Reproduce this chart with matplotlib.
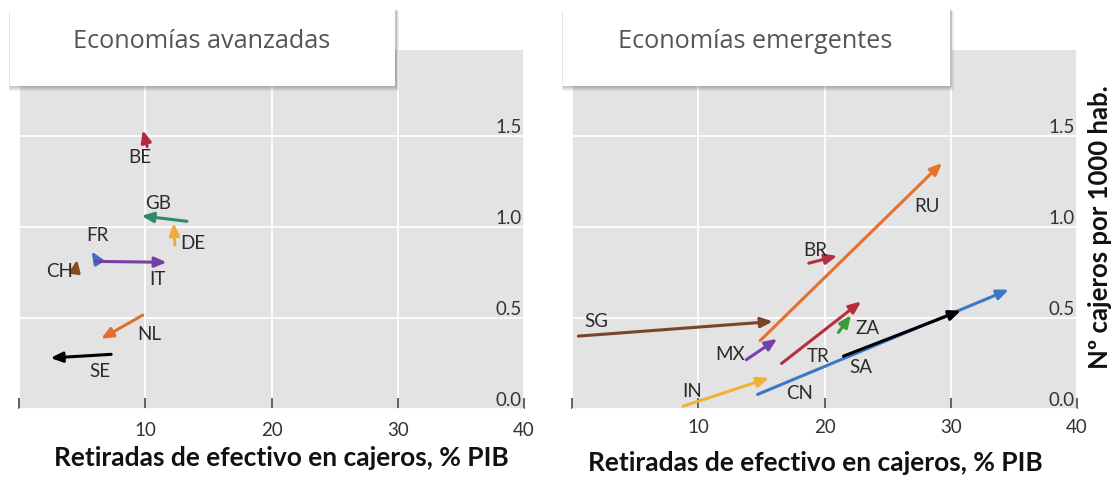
import matplotlib
matplotlib.use("Agg")
import matplotlib.pyplot as plt
import matplotlib.transforms as mtransforms
from matplotlib.patches import Rectangle

# ---------------- data ----------------
panel_titles = ["Economías avanzadas", "Economías emergentes"]
x_label = "Retiradas de efectivo en cajeros, % PIB"
y_label = "Nº cajeros por 1000 hab."
x_ticks = [0, 10, 20, 30, 40]
x_tick_labels = ["", "10", "20", "30", "40"]
y_ticks = [0.0, 0.5, 1.0, 1.5]
y_tick_labels = ["0.0", "0.5", "1.0", "1.5"]

# advanced economies: arrow start (x0,y0) -> end (x1,y1)
adv_codes = ["BE", "GB", "DE", "FR", "IT", "CH", "NL", "SE"]
adv_x0 = [10.15, 13.3, 12.35, 6.2, 6.0, 4.5, 9.8, 7.3]
adv_y0 = [1.44, 1.03, 0.90, 0.815, 0.81, 0.775, 0.515, 0.30]
adv_x1 = [9.8, 9.7, 12.25, 5.75, 11.7, 4.6, 6.5, 2.5]
adv_y1 = [1.53, 1.06, 1.02, 0.865, 0.805, 0.82, 0.385, 0.28]
adv_colors = ["#B52A3A", "#2F8A68", "#F2A93B", "#3D6FC2", "#7540A5",
              "#8B4A1E", "#E46D2C", "#000000"]
adv_lab_x = [9.6, 11.0, 13.8, 6.2, 11.0, 3.2, 10.3, 6.4]
adv_lab_y = [1.38, 1.13, 0.91, 0.95, 0.71, 0.755, 0.41, 0.205]

# emerging economies
emg_codes = ["CN", "SG", "RU", "BR", "MX", "TR", "ZA", "SA", "IN"]
emg_x0 = [14.7, 0.5, 14.9, 18.75, 13.8, 16.6, 21.1, 21.5, 8.8]
emg_y0 = [0.08, 0.40, 0.375, 0.80, 0.27, 0.25, 0.42, 0.29, 0.015]
emg_x1 = [34.6, 15.9, 29.3, 21.0, 16.25, 22.9, 22.1, 30.8, 15.6]
emg_y1 = [0.655, 0.48, 1.35, 0.84, 0.385, 0.59, 0.515, 0.54, 0.17]
emg_colors = ["#3B78C8", "#7A4527", "#E8702A", "#B3303E", "#7540A8",
              "#B82E3C", "#3C9A3C", "#000000", "#F2B134"]
emg_lab_x = [18.0, 1.9, 28.1, 19.3, 12.5, 19.5, 23.4, 22.9, 9.5]
emg_lab_y = [0.086, 0.48, 1.11, 0.87, 0.30, 0.29, 0.44, 0.225, 0.095]

# ---------------- figure ----------------
W, H = 1111, 479
fig = plt.figure(figsize=(W / 100, H / 100), dpi=100)
fig.patch.set_facecolor("white")

def px_axes(x0, x1, ytop, ybot):
    return [x0 / W, 1 - ybot / H, (x1 - x0) / W, (ybot - ytop) / H]

ax_l = fig.add_axes(px_axes(19, 524, 50, 409))
ax_r = fig.add_axes(px_axes(572, 1077, 50, 409))

TICK_FONT = "Lato"
for ax, pad in ((ax_l, 9.5), (ax_r, 7)):
    ax.set_facecolor("#E3E3E3")
    ax.set_xlim(0, 40)
    ax.set_ylim(0, 1.97)
    for s in ax.spines.values():
        s.set_visible(False)
    ax.set_xticks(x_ticks)
    ax.set_xticklabels(x_tick_labels, fontfamily=TICK_FONT, fontsize=13.5,
                       color="#333333")
    ax.tick_params(axis="x", direction="in", length=8, width=1.3,
                   color="#555555", pad=pad)
    ax.set_yticks(y_ticks)
    ax.set_yticklabels([])
    ax.tick_params(axis="y", length=0)
    ax.grid(True, color="white", lw=1.3)
    ax.set_axisbelow(True)
    trans = mtransforms.blended_transform_factory(ax.transAxes, ax.transData)
    for v, t in zip(y_ticks, y_tick_labels):
        ax.annotate(t, xy=(0.995, v), xycoords=trans, xytext=(0, 2),
                    textcoords="offset points", ha="right", va="baseline",
                    fontfamily=TICK_FONT, fontsize=13.5, color="#333333")

def draw_arrows(ax, codes, x0, y0, x1, y1, cols, lx, ly):
    for c, a, b, cc, d, col, tx, ty in zip(codes, x0, y0, x1, y1, cols, lx, ly):
        ax.annotate("", xy=(cc, d), xytext=(a, b),
                    arrowprops=dict(arrowstyle="-|>,head_length=0.7,head_width=0.3",
                                    lw=2.2, color=col, mutation_scale=10,
                                    shrinkA=0, shrinkB=0))
        ax.text(tx, ty, c, ha="center", va="center", fontfamily="Lato",
                fontsize=13.5, color="#2b2b2b")

draw_arrows(ax_l, adv_codes, adv_x0, adv_y0, adv_x1, adv_y1, adv_colors,
            adv_lab_x, adv_lab_y)
# CN is first in the list so the black SA arrow is drawn over it
draw_arrows(ax_r, emg_codes, emg_x0, emg_y0, emg_x1, emg_y1, emg_colors,
            emg_lab_x, emg_lab_y)

# axis labels
for ax, lx, ly in ((ax_l, 0.519, -0.136), (ax_r, 0.481, -0.150)):
    ax.set_xlabel(x_label, fontfamily="Lato", fontweight="bold", fontsize=19,
                  color="#111111")
    ax.xaxis.set_label_coords(lx, ly)
    ax.xaxis.label.set_va("center")

ax_r.set_ylabel(y_label, fontfamily="Lato", fontweight="bold", fontsize=18.5,
                color="#111111", rotation=90)
ax_r.yaxis.set_label_position("right")
ax_r.yaxis.set_label_coords(1.0455, 0.507)
ax_r.yaxis.label.set_va("center")
ax_r.yaxis.label.set_ha("center")

# title boxes with soft shadow
boxes = [(10, 395, 9, 86, 202), (563, 950, 9, 86, 755)]
for (bx0, bx1, by0, by1, tcx), title in zip(boxes, panel_titles):
    for k in range(5, 0, -1):
        sh = Rectangle(((bx0 + 1 - k * 0.4) / W, 1 - (by1 + k) / H),
                       (bx1 - bx0 + k * 0.9) / W, (by1 - by0 + k * 0.6) / H,
                       transform=fig.transFigure, facecolor="#000000",
                       alpha=0.05, edgecolor="none", zorder=4)
        fig.patches.append(sh)
    rect = Rectangle((bx0 / W, 1 - by1 / H), (bx1 - bx0) / W, (by1 - by0) / H,
                     transform=fig.transFigure, facecolor="white",
                     edgecolor="none", zorder=5)
    fig.patches.append(rect)
    fig.text(tcx / W, 1 - 41 / H, title, ha="center", va="center",
             fontfamily="Open Sans", fontsize=18.2, color="#555555", zorder=6)

fig.savefig("out.png", dpi=100)
